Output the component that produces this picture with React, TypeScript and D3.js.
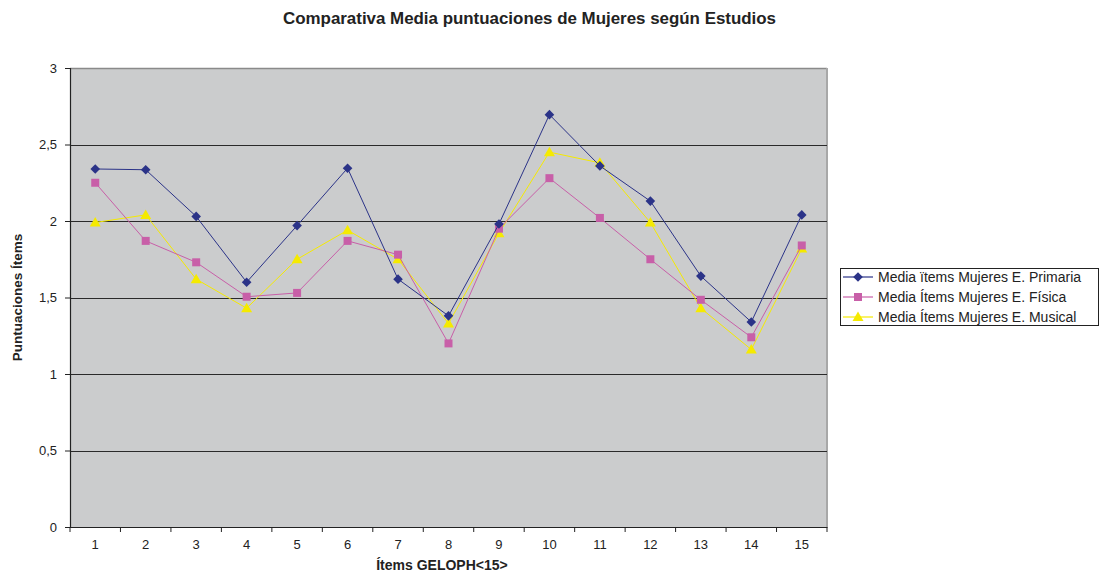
import React, { useEffect, useRef } from 'react';
import * as d3 from 'd3';

const items = ['1', '2', '3', '4', '5', '6', '7', '8', '9', '10', '11', '12', '13', '14', '15'];
const primaria = [2.34, 2.335, 2.03, 1.6, 1.97, 2.345, 1.62, 1.38, 1.98, 2.695, 2.36, 2.13, 1.64, 1.34, 2.04];
const fisica = [2.25, 1.87, 1.73, 1.505, 1.53, 1.87, 1.78, 1.2, 1.95, 2.28, 2.02, 1.75, 1.485, 1.24, 1.84];
const musical = [1.99, 2.04, 1.62, 1.43, 1.75, 1.94, 1.75, 1.33, 1.92, 2.45, 2.38, 1.99, 1.43, 1.16, 1.82];
const yTicks = [0, 0.5, 1, 1.5, 2, 2.5, 3];

const seriesNames = [
    'Media ïtems Mujeres E. Primaria',
    'Media Ítems Mujeres E. Física',
    'Media Ítems Mujeres E. Musical',
];

type Series = { name: string; values: number[]; color: string; marker: 'diamond' | 'square' | 'triangle' };

const series: Series[] = [
    { name: seriesNames[0], values: primaria, color: '#2b3388', marker: 'diamond' },
    { name: seriesNames[1], values: fisica, color: '#c85fa8', marker: 'square' },
    { name: seriesNames[2], values: musical, color: '#f5ea00', marker: 'triangle' },
];

const font = 'Arial, "Liberation Sans", sans-serif';
const narrow = '"Liberation Sans Narrow", "Arial Narrow", Arial, sans-serif';

// marker outlines, roughly as the spreadsheet draws them
function markerPath(m: Series['marker']) {
    const p = d3.path();
    if (m === 'diamond') {
        p.moveTo(0, -4.8); p.lineTo(4.8, 0); p.lineTo(0, 4.8); p.lineTo(-4.8, 0); p.closePath();
    } else if (m === 'square') {
        p.rect(-4, -4, 8, 8);
    } else {
        p.moveTo(0, -5.5); p.lineTo(5.5, 4); p.lineTo(-5.5, 4); p.closePath();
    }
    return p.toString();
}

function draw(svgRoot: SVGSVGElement) {
    const width = 1102;
    const height = 574;
    const plot = { left: 70, right: 827, top: 68, bottom: 527 };

    const svg = d3.select(svgRoot);
    svg.selectChildren().remove();
    svg.attr('width', width).attr('height', height).attr('viewBox', [0, 0, width, height] as any);

    svg.append('rect').attr('width', width).attr('height', height).attr('fill', '#ffffff');

    const x = d3.scaleBand().domain(items).range([plot.left, plot.right]);
    const y = d3.scaleLinear().domain([0, 3]).range([plot.bottom, plot.top]);

    // title
    svg.append('text')
        .attr('x', 283).attr('y', 24)
        .attr('font-family', font).attr('font-weight', 'bold').attr('font-size', 16)
        .attr('textLength', 493).attr('lengthAdjust', 'spacingAndGlyphs')
        .attr('fill', '#222')
        .text('Comparativa Media puntuaciones de Mujeres según Estudios');

    // plot area
    svg.append('rect')
        .attr('x', plot.left).attr('y', plot.top)
        .attr('width', plot.right - plot.left).attr('height', plot.bottom - plot.top)
        .attr('fill', '#cbcccd');
    svg.append('line')
        .attr('x1', plot.left).attr('x2', plot.right)
        .attr('y1', plot.top + 0.5).attr('y2', plot.top + 0.5)
        .attr('stroke', '#8a8a8a').attr('stroke-width', 1.5);
    svg.append('line')
        .attr('x1', plot.right).attr('x2', plot.right)
        .attr('y1', plot.top).attr('y2', plot.bottom)
        .attr('stroke', '#a8a8a8').attr('stroke-width', 2);

    // gridlines
    svg.append('g')
        .selectAll('line')
        .data(yTicks.filter((t) => t > 0 && t < 3))
        .enter().append('line')
        .attr('x1', plot.left).attr('x2', plot.right)
        .attr('y1', (d) => Math.round(y(d)) + 0.5).attr('y2', (d) => Math.round(y(d)) + 0.5)
        .attr('stroke', '#2a2a2a').attr('stroke-width', 1.2);

    // y axis
    const yAxis = svg.append('g')
        .attr('transform', `translate(${plot.left},0)`)
        .call(d3.axisLeft(y).tickValues(yTicks).tickSize(5).tickPadding(8)
            .tickFormat((d) => d3.format('')(d as number).replace('.', ',')));
    yAxis.select('.domain').attr('stroke', '#222').attr('stroke-width', 1.2);
    yAxis.selectAll('.tick line').attr('stroke', '#222');
    yAxis.selectAll('text').attr('font-family', font).attr('font-size', 13).attr('fill', '#222');

    // x axis
    const xAxis = svg.append('g')
        .attr('transform', `translate(0,${plot.bottom})`)
        .call(d3.axisBottom(x).tickSize(0).tickPadding(13));
    xAxis.select('.domain').attr('stroke', '#222').attr('stroke-width', 1.2);
    xAxis.selectAll('text').attr('font-family', font).attr('font-size', 13).attr('fill', '#222');
    xAxis.append('g')
        .selectAll('line')
        .data(d3.range(items.length + 1))
        .enter().append('line')
        .attr('x1', (i) => plot.left + i * x.step()).attr('x2', (i) => plot.left + i * x.step())
        .attr('y1', 0).attr('y2', 5)
        .attr('stroke', '#222');

    // axis titles
    svg.append('text')
        .attr('x', 442).attr('y', 570)
        .attr('text-anchor', 'middle')
        .attr('font-family', narrow).attr('font-weight', 'bold').attr('font-size', 14)
        .attr('fill', '#222')
        .text('Ítems GELOPH<15>');
    svg.append('text')
        .attr('transform', `translate(22,${(plot.top + plot.bottom) / 2}) rotate(-90)`)
        .attr('text-anchor', 'middle')
        .attr('font-family', narrow).attr('font-weight', 'bold').attr('font-size', 13.5)
        .attr('fill', '#222')
        .text('Puntuaciones Ítems');

    const cx = (i: number) => (x(items[i]) as number) + x.bandwidth() / 2;
    const line = d3.line<number>().x((d, i) => cx(i)).y((d) => y(d));

    // series, drawn bottom to top
    [...series].reverse().forEach((s) => {
        const g = svg.append('g');
        g.append('path')
            .datum(s.values)
            .attr('fill', 'none')
            .attr('stroke', s.color)
            .attr('stroke-width', 1)
            .attr('d', line);
        g.selectAll('path.mk')
            .data(s.values)
            .enter().append('path')
            .attr('class', 'mk')
            .attr('transform', (d, i) => `translate(${cx(i)},${y(d)})`)
            .attr('d', markerPath(s.marker))
            .attr('fill', s.color);
    });

    // legend
    const lg = svg.append('g').attr('transform', 'translate(840,268)');
    lg.append('rect')
        .attr('x', 0.5).attr('y', 0.5).attr('width', 258).attr('height', 57)
        .attr('fill', '#ffffff').attr('stroke', '#222').attr('stroke-width', 1);
    series.forEach((s, i) => {
        const row = lg.append('g').attr('transform', `translate(0,${9 + i * 20})`);
        row.append('line')
            .attr('x1', 3).attr('x2', 33).attr('y1', 0).attr('y2', 0)
            .attr('stroke', s.color).attr('stroke-width', 1.2);
        row.append('path')
            .attr('transform', 'translate(18,0)')
            .attr('d', markerPath(s.marker))
            .attr('fill', s.color);
        row.append('text')
            .attr('x', 38).attr('y', 5)
            .attr('font-family', font).attr('font-size', 14).attr('fill', '#222')
            .text(s.name);
    });
}

export default function App() {
    const svgRef = useRef<SVGSVGElement>(null);
    useEffect(() => {
        svgRef.current && draw(svgRef.current);
    }, []);
    return (
        <svg ref={svgRef} style={{ position: 'absolute', left: 0, top: 0, display: 'block' }} />
    );
}
